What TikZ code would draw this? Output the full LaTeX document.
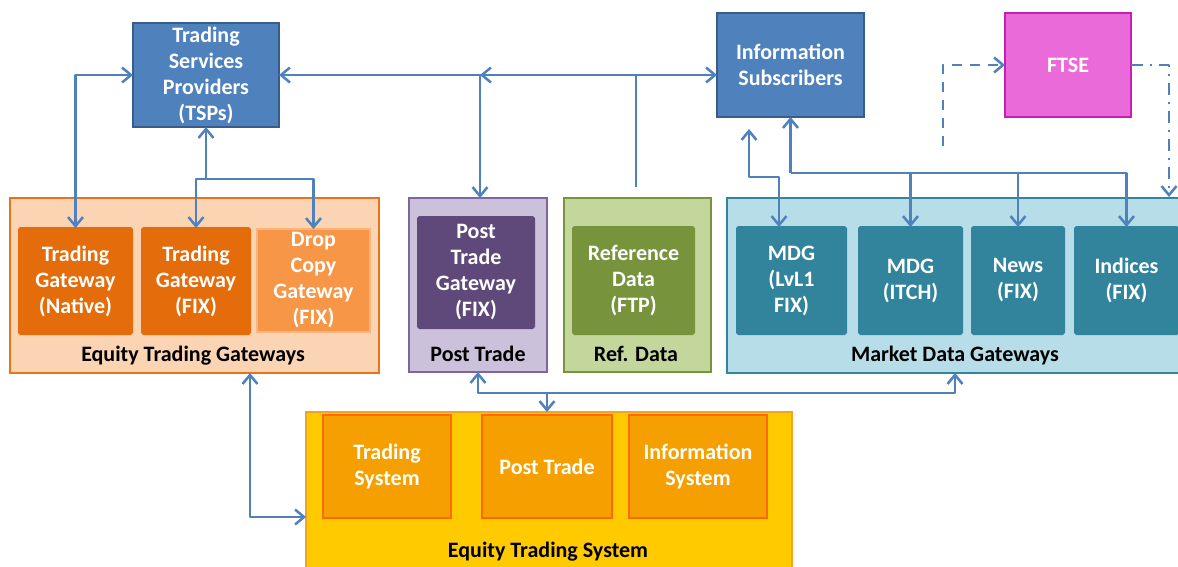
\documentclass[tikz,border=0pt]{standalone}
\usepackage{fontspec}
\setmainfont{Carlito}
\usetikzlibrary{arrows.meta,calc}
\definecolor{cblue}{HTML}{4F81BD}
\definecolor{cbluedk}{HTML}{385D8A}
\definecolor{ftsefill}{HTML}{EA6AD9}
\definecolor{ftsedraw}{HTML}{C71FB6}
\definecolor{etgfill}{HTML}{FBD4B4}
\definecolor{etgdraw}{HTML}{E8731A}
\definecolor{orgdk}{HTML}{E46C0A}
\definecolor{orglt}{HTML}{F79646}
\definecolor{orgltb}{HTML}{FAB47F}
\definecolor{ptfill}{HTML}{CCC1DA}
\definecolor{ptdraw}{HTML}{8064A2}
\definecolor{ptin}{HTML}{5F497A}
\definecolor{rdfill}{HTML}{C3D69B}
\definecolor{rddraw}{HTML}{77933C}
\definecolor{rdin}{HTML}{77933C}
\definecolor{mdfill}{HTML}{B7DEE8}
\definecolor{mddraw}{HTML}{31859C}
\definecolor{mdin}{HTML}{31849B}
\definecolor{etsfill}{HTML}{FFCA00}
\definecolor{etsdraw}{HTML}{F7A21B}
\definecolor{etsin}{HTML}{F5A000}
\definecolor{etsinb}{HTML}{FF6A00}
\tikzset{
  wbox/.style={rectangle, inner sep=0pt, outer sep=0pt, align=center,
    line width=2pt, text=white, font=\fontsize{22}{26}\selectfont\bfseries,
    execute at begin node={\vspace*{5pt}}},
  obox/.style={rectangle, inner sep=0pt, outer sep=0pt, line width=2.2pt},
  lbl/.style={inner sep=0pt, text=black, font=\fontsize{22}{26}\selectfont\bfseries},
  conn/.style={draw=cblue, line width=2.5pt, line join=round},
  dashline/.style={dash pattern=on 10pt off 8pt},
  dashdotline/.style={dash pattern=on 12pt off 7pt on 2pt off 7pt},
  >={Straight Barb[length=9pt,width=15pt]}
}
\begin{document}
\begin{tikzpicture}[x=1pt,y=-1pt]
\useasboundingbox[fill=white] (0,0) rectangle (1178,566);

% top boxes
\node[wbox, fill=cblue, draw=cbluedk, minimum width=146pt, minimum height=104pt] (tsp) at (206,75)
  {Trading\\Services\\Providers\\(TSPs)};
\node[wbox, fill=cblue, draw=cbluedk, minimum width=147pt, minimum height=104pt] (infosub) at (790.5,65)
  {Information\\Subscribers};
\node[wbox, fill=ftsefill, draw=ftsedraw, minimum width=126pt, minimum height=104pt] (ftse) at (1068,65)
  {FTSE};

% outer group boxes
\node[obox, fill=etgfill, draw=etgdraw, minimum width=369pt, minimum height=175pt] (etgouter) at (194.5,285.5) {};
\node[obox, fill=ptfill, draw=ptdraw, minimum width=138pt, minimum height=174pt] (ptouter) at (478,285) {};
\node[obox, fill=rdfill, draw=rddraw, minimum width=147pt, minimum height=174pt] (rdouter) at (637.5,285) {};
\node[obox, fill=mdfill, draw=mddraw, minimum width=463pt, minimum height=175pt] (mdgouter) at (958.5,285.5) {};
\node[obox, fill=etsfill, draw=etsdraw, minimum width=486pt, minimum height=170pt] (etsouter) at (549,497) {};

% group labels
\node[lbl] (etglbl) at (193,356) {Equity Trading Gateways};
\node[lbl] (ptlbl) at (478,354) {Post Trade};
\node[lbl] (rdlbl) at (636,354) {Ref. Data};
\node[lbl] (mdglbl) at (955,356) {Market Data Gateways};
\node[lbl] (etslbl) at (548,552) {Equity Trading System};

% inner boxes
\node[wbox, fill=orgdk, draw=orgdk, rounded corners=1.5pt, minimum width=113pt, minimum height=106pt] (native) at (75.5,281)
  {Trading\\Gateway\\(Native)};
\node[wbox, fill=orgdk, draw=orgdk, rounded corners=1.5pt, minimum width=108pt, minimum height=106pt] (fix) at (196,281)
  {Trading\\Gateway\\(FIX)};
\node[wbox, fill=orglt, draw=orgltb, minimum width=113pt, minimum height=103pt] (drop) at (313.5,280.5)
  {Drop\\Copy\\Gateway\\(FIX)};
\node[wbox, fill=ptin, draw=ptin, rounded corners=1.5pt, minimum width=116pt, minimum height=111pt] (ptg) at (476,272.5)
  {Post\\Trade\\Gateway\\(FIX)};
\node[wbox, fill=rdin, draw=rdin, rounded corners=1.5pt, minimum width=121pt, minimum height=107pt] (refin) at (633.5,280.5)
  {Reference\\Data\\(FTP)};
\node[wbox, fill=mdin, draw=mdin, rounded corners=1.5pt, minimum width=109pt, minimum height=107pt] (lvl1) at (791.5,280.5)
  {MDG\\(LvL1\\FIX)};
\node[wbox, fill=mdin, draw=mdin, rounded corners=1.5pt, minimum width=103pt, minimum height=107pt] (itch) at (910.5,280.5)
  {MDG\\(ITCH)};
\node[wbox, fill=mdin, draw=mdin, rounded corners=1.5pt, minimum width=92pt, minimum height=107pt] (news) at (1018,280.5)
  {News\\(FIX)};
\node[wbox, fill=mdin, draw=mdin, rounded corners=1.5pt, minimum width=103pt, minimum height=107pt] (indices) at (1126.5,280.5)
  {Indices\\(FIX)};
\node[wbox, fill=etsin, draw=etsinb, minimum width=128pt, minimum height=103pt] (tsys) at (387,466.5)
  {Trading\\System};
\node[wbox, fill=etsin, draw=etsinb, minimum width=130pt, minimum height=103pt] (etspost) at (547,466.5)
  {Post Trade};
\node[wbox, fill=etsin, draw=etsinb, minimum width=138pt, minimum height=103pt] (isys) at (698,466.5)
  {Information\\System};

% coordinates for free ends / junctions
\coordinate (j1) at (206,179);
\coordinate (j2) at (480,75);
\coordinate (j2b) at (597,75);
\coordinate (j3) at (636,75);
\coordinate (r1) at (636,187);
\coordinate (a1) at (749,129);
\coordinate (a2) at (779,177);
\coordinate (j4) at (790.5,173);
\coordinate (f1) at (943,146);
\coordinate (f2) at (1169,197);
\coordinate (b1) at (250,373);
\coordinate (b2) at (306,517);
\coordinate (j6) at (955,393);

% connectors
\draw[conn,<->] (native.north) |- (tsp.west);
\draw[conn,->] (j1) -- (tsp.south);
\draw[conn,<->] (fix.north) |- (j1) -| (drop.north);
\draw[conn,<->] (tsp.east) -- (infosub.west |- tsp.east);
\draw[conn,->] (j2) -- (ptouter.north -| j2);
\draw[conn,->] (j2b) -- (j2);
\draw[conn] (r1) -- (j3);
\draw[conn,<->] (a1) |- (a2) -- (lvl1.north -| a2);
\draw[conn,->] (j4) -- (infosub.south);
\draw[conn,->] (j4) -| (indices.north);
\draw[conn,->] (itch.north |- j4) -- (itch.north);
\draw[conn,->] (news.north |- j4) -- (news.north);
\draw[conn,dashline,->] (f1) |- (ftse.west);
\draw[conn,dashdotline,->] (ftse.east) -| (f2);
\draw[conn,<->] (b1) |- (b2);
\draw[conn,<->] (ptouter.south) |- (j6) -- (mdgouter.south -| j6);
\draw[conn,->] (etspost.north |- j6) -- (etspost.north |- etsouter.north);
\end{tikzpicture}
\end{document}
